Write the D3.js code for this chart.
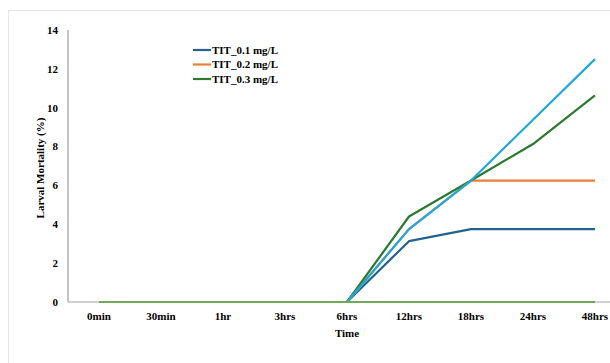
<!DOCTYPE html>
<html>
<head>
<meta charset="utf-8">
<script src="https://cdn.jsdelivr.net/npm/d3@7"></script>
<style>
  body { margin: 0; background: #fff; }
  svg { display: block; font-family: "Liberation Serif", "Times New Roman", serif; }
</style>
</head>
<body>
<div id="chart"></div>
<script>
const times = ['0min', '30min', '1hr', '3hrs', '6hrs', '12hrs', '18hrs', '24hrs', '48hrs'];
const tit01 = [0, 0, 0, 0, 0, 3.13, 3.75, 3.75, 3.75];
const tit02 = [0, 0, 0, 0, 0, 3.75, 6.25, 6.25, 6.25];
const tit03 = [0, 0, 0, 0, 0, 4.4, 6.25, 8.13, 10.63];
const extra = [0, 0, 0, 0, 0, 3.75, 6.25, 9.38, 12.5];
const control = [0, 0, 0, 0, 0, 0, 0, 0, 0];
const yTicks = [0, 2, 4, 6, 8, 10, 12, 14];

const series = [
    { name: 'TIT_0.1 mg/L', values: tit01, color: '#22628f', legend: true },
    { name: 'TIT_0.2 mg/L', values: tit02, color: '#ee7d36', legend: true },
    { name: 'TIT_0.3 mg/L', values: tit03, color: '#2b7a30', legend: true },
    { name: 'extra', values: extra, color: '#22a7da', legend: false },
    { name: 'control', values: control, color: '#72a955', legend: false }
];

const width = 610, height = 363;
const margin = { left: 68, right: -16, top: 30, bottom: 61 };

const svg = d3.select('#chart').append('svg')
    .attr('width', width)
    .attr('height', height);

// chart frame (cropped on the right)
svg.append('rect')
    .attr('x', 8.5).attr('y', 10.5)
    .attr('width', 640).attr('height', 400)
    .attr('fill', 'none')
    .attr('stroke', '#e4e4e4');

const x = d3.scalePoint()
    .domain(times)
    .range([margin.left, width - margin.right])
    .padding(0.5);

const y = d3.scaleLinear()
    .domain([0, 14])
    .range([height - margin.bottom, margin.top]);

// axes lines
svg.append('line')
    .attr('x1', margin.left).attr('x2', margin.left)
    .attr('y1', y(14)).attr('y2', y(0))
    .attr('stroke', '#8c8c8c').attr('stroke-width', 1);
svg.append('line')
    .attr('x1', margin.left).attr('x2', width)
    .attr('y1', y(0)).attr('y2', y(0))
    .attr('stroke', '#a0a0a0').attr('stroke-width', 1);

// y tick labels
svg.append('g').selectAll('text')
    .data(yTicks)
    .enter().append('text')
    .attr('x', 58)
    .attr('y', d => y(d))
    .attr('dy', '0.35em')
    .attr('text-anchor', 'end')
    .attr('font-size', 11)
    .attr('font-weight', 'bold')
    .text(d => d);

// x tick labels
svg.append('g').selectAll('text')
    .data(times)
    .enter().append('text')
    .attr('x', d => x(d))
    .attr('y', 320)
    .attr('text-anchor', 'middle')
    .attr('font-size', 11)
    .attr('font-weight', 'bold')
    .text(d => d);

// axis titles
svg.append('text')
    .attr('x', 347).attr('y', 337)
    .attr('text-anchor', 'middle')
    .attr('font-size', 11)
    .attr('font-weight', 'bold')
    .text('Time');

svg.append('text')
    .attr('transform', `translate(44,${(y(0) + y(14)) / 2 + 2}) rotate(-90)`)
    .attr('text-anchor', 'middle')
    .attr('font-size', 11)
    .attr('font-weight', 'bold')
    .text('Larval Mortality (%)');

// lines
const line = d3.line()
    .x((d, i) => x(times[i]))
    .y(d => y(d));

svg.append('g').selectAll('path')
    .data(series)
    .enter().append('path')
    .attr('d', d => line(d.values))
    .attr('fill', 'none')
    .attr('stroke', d => d.color)
    .attr('stroke-width', 2.2)
    .attr('stroke-linejoin', 'round');

// legend
const legend = svg.append('g').selectAll('g')
    .data(series.filter(d => d.legend))
    .enter().append('g')
    .attr('transform', (d, i) => `translate(193,${50 + i * 14.5})`);

legend.append('line')
    .attr('x1', 0).attr('x2', 18)
    .attr('stroke', d => d.color)
    .attr('stroke-width', 2.2);

legend.append('text')
    .attr('x', 19)
    .attr('dy', '0.35em')
    .attr('font-size', 11)
    .attr('font-weight', 'bold')
    .text(d => d.name);
</script>
</body>
</html>
